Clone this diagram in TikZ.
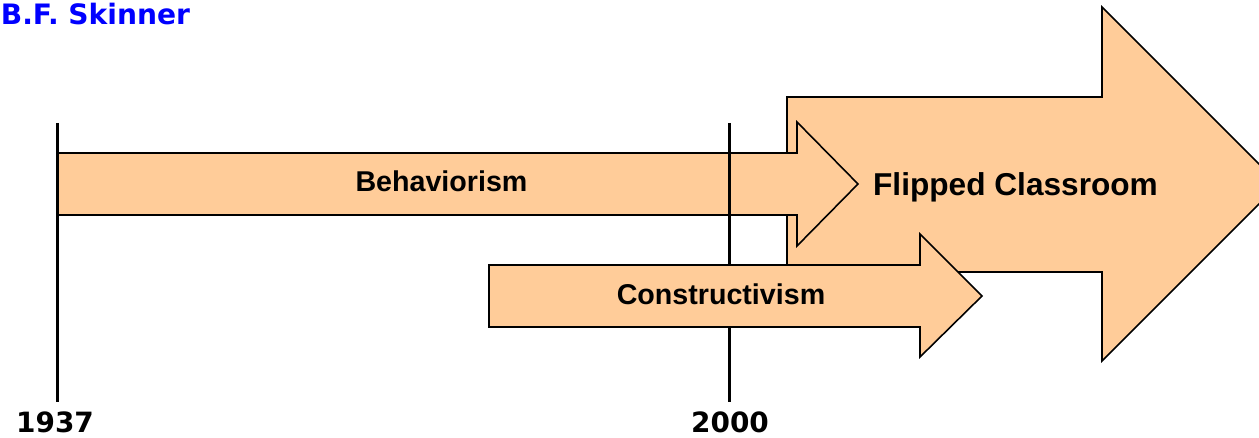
\documentclass[tikz,border=0pt]{standalone}
\usepackage{fontspec}
\setmainfont{Liberation Sans}
\newfontfamily\yearfont{DejaVu Sans}
\usetikzlibrary{positioning}
\definecolor{peach}{RGB}{255,204,153}
\definecolor{skinner blue}{RGB}{0,0,255}
\tikzset{
    % Arrows
    era arrow/.style={fill=peach,draw=black,line width=0.9pt,line join=miter},
    timeline/.style={line width=1.8pt},
    %
    % Labels
    era label/.style={anchor=base,inner sep=0pt,font=\bfseries\fontsize{16.3}{18}\selectfont},
    big label/.style={era label,font=\bfseries\fontsize{18}{20}\selectfont},
    year label/.style={anchor=base,inner sep=0pt,font=\yearfont\bfseries\fontsize{15.9}{18}\selectfont},
}

\begin{document}
\begin{tikzpicture}[x=0.02cm,y=-0.02cm]
        \clip (0,0) rectangle (1259,438);
        % arrows
        \draw[era arrow] (787,97) -- (1102,97) -- (1102,7) -- (1279,184) -- (1102,361) -- (1102,272) -- (787,272) -- cycle;
        \draw[era arrow] (57,153) -- (797,153) -- (797,122) -- (858,184) -- (797,246) -- (797,215) -- (57,215) -- cycle;
        \draw[timeline] (57.5,123) -- (57.5,402);
        \draw[timeline] (729.5,123) -- (729.5,402);
        \draw[era arrow] (489,265) -- (920,265) -- (920,234) -- (982,296) -- (920,357) -- (920,327) -- (489,327) -- cycle;
        % labels
        \node[era label] (behav) at (441.5,192) {Behaviorism};
        \node[big label] (flipped) at (1015.5,196) {Flipped Classroom};
        \node[era label] (constr) at (721,305) {Constructivism};
        \node[year label] (y1937) at (55,433) {1937};
        \node[year label] (y2000) at (730,433) {2000};
        \node[year label,anchor=base west,text=skinner blue,font=\yearfont\bfseries\fontsize{16}{18}\selectfont] (skinner) at (0.5,25) {B.F. Skinner};
    \end{tikzpicture}
\end{document}
